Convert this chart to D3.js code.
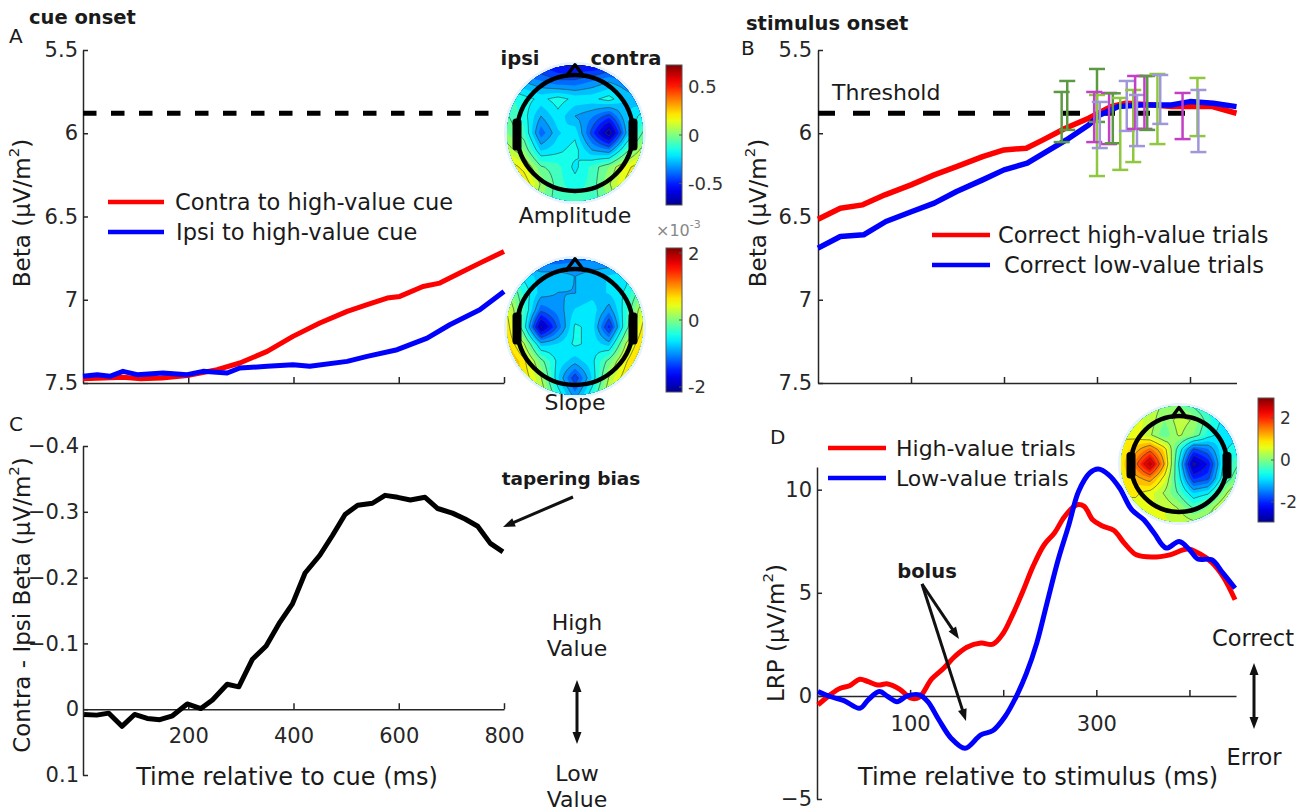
<!DOCTYPE html>
<html><head><meta charset="utf-8">
<script src="https://cdn.jsdelivr.net/npm/d3@7"></script>
<style>body{margin:0;background:#fff}svg{display:block}</style>
</head><body><svg id="c" width="1309" height="812"></svg>
<script>
// ---------------- DATA ----------------
const threshold = 5.88;
const betaTicks = [5.5, 6, 6.5, 7, 7.5];
const cueTicks = [200, 400, 600, 800];
const stimTicks = [100, 200, 300, 400];
const stimTickLabels = [100, 300];
const diffTicks = [-0.4, -0.3, -0.2, -0.1, 0, 0.1];
const lrpTicks = [-5, 0, 5, 10];

// Panel A: beta vs time from cue (ms)
const contraA = [[0,7.475],[40,7.47],[76,7.465],[110,7.475],[150,7.47],[198,7.455],[255,7.42],[298,7.38],[350,7.31],[399,7.22],[450,7.14],[502,7.07],[540,7.03],[578,6.99],[602,6.98],[646,6.92],[678,6.90],[716,6.84],[754,6.78],[800,6.71]];
const ipsiA = [[0,7.46],[27,7.45],[51,7.46],[76,7.43],[103,7.45],[152,7.44],[198,7.45],[228,7.43],[274,7.44],[298,7.41],[350,7.40],[399,7.39],[431,7.40],[502,7.37],[540,7.34],[597,7.30],[654,7.23],[697,7.15],[754,7.06],[800,6.95]];

// Panel B: beta vs time from stimulus (ms)
const highB = [[0,6.516],[24,6.45],[48,6.43],[72,6.37],[100,6.31],[125,6.25],[149,6.20],[177,6.14],[200,6.10],[224,6.09],[242,6.04],[266,5.97],[291,5.91],[315,5.84],[331,5.82],[360,5.83],[380,5.84],[400,5.84],[424,5.84],[450,5.88]];
const lowB = [[0,6.69],[24,6.62],[49,6.61],[73,6.53],[101,6.47],[125,6.42],[149,6.35],[177,6.28],[200,6.22],[225,6.18],[243,6.12],[267,6.04],[291,5.95],[303,5.89],[323,5.84],[347,5.83],[380,5.83],[400,5.81],[425,5.82],[450,5.84]];
// error bars: time, top, bottom, group
const errT  = [262,268,300,300,297,303,313,317,325,332,339,341,343,351,354,365,368,392,408,409];
const errHi = [5.752,5.686,5.614,5.77,5.752,5.812,5.758,5.76,5.788,5.686,5.74,5.656,5.77,5.656,5.656,5.644,5.65,5.758,5.668,5.74];
const errLo = [6.053,5.98,5.932,6.257,6.053,6.089,6.065,6.06,6.22,5.986,6.173,5.974,6.077,5.974,5.98,6.065,5.944,6.035,6.017,6.113];
const errGroup = [0,0,0,1,2,3,2,0,1,3,1,2,3,2,0,1,3,2,1,3];
const errColors = ["#5c9a42","#8fc73e","#c23fc6","#a097d9"];

// Panel C: contra - ipsi
const diffC = [[2,0.008],[26,0.009],[49,0.006],[74,0.026],[98,0.008],[122,0.014],[146,0.016],[170,0.010],[198,-0.008],[224,-0.001],[246,-0.014],[274,-0.038],[296,-0.034],[322,-0.076],[348,-0.096],[374,-0.132],[398,-0.160],[422,-0.207],[450,-0.234],[474,-0.264],[498,-0.296],[522,-0.310],[550,-0.313],[574,-0.325],[598,-0.322],[622,-0.318],[650,-0.322],[674,-0.305],[702,-0.298],[726,-0.289],[750,-0.278],[774,-0.252],[798,-0.239]];

// Panel D: LRP
const highD = [[1,-0.44],[14,0.05],[25,0.37],[35,0.49],[46,0.81],[55,0.69],[65,0.53],[76,0.58],[89,0.32],[101,-0.11],[110,-0.06],[123,0.81],[136,1.34],[148,1.91],[161,2.36],[176,2.56],[189,2.51],[200,3.04],[210,3.93],[221,5.06],[232,6.28],[244,7.33],[255,7.90],[266,8.70],[279,9.27],[287,9.19],[296,8.54],[306,8.25],[319,8.02],[330,7.41],[343,6.84],[360,6.73],[379,6.84],[398,7.12],[411,6.89],[424,6.47],[436,5.79],[449,4.66]];
const lowD = [[1,0.21],[14,-0.03],[29,-0.23],[46,-0.60],[55,-0.19],[67,0.21],[76,-0.03],[86,-0.28],[97,0.0],[110,0.05],[119,-0.28],[131,-1.17],[144,-2.05],[159,-2.54],[176,-1.89],[189,-1.68],[202,-1.00],[214,-0.03],[225,1.10],[236,2.56],[247,4.50],[259,6.60],[270,8.22],[281,9.92],[293,10.81],[302,11.0],[313,10.73],[325,10.08],[338,9.03],[351,8.54],[362,7.90],[375,7.17],[389,7.49],[400,7.09],[409,6.64],[424,6.60],[436,5.95],[449,5.22]];

// Topographic maps (9x9 grids, rows top->bottom)
const ampMap = [
 [-0.5,-0.5,-0.5,-0.55,-0.55,-0.55,-0.5,-0.5,-0.5],
 [-0.25,-0.3,-0.35,-0.4,-0.4,-0.35,-0.3,-0.35,-0.4],
 [-0.1,-0.15,-0.2,-0.15,-0.2,-0.2,-0.15,-0.25,-0.3],
 [-0.05,-0.15,-0.3,-0.2,-0.3,-0.35,-0.45,-0.25,-0.15],
 [0.0,-0.1,-0.4,-0.25,-0.2,-0.45,-0.72,-0.3,-0.05],
 [0.1,0.0,-0.25,-0.2,-0.15,-0.3,-0.35,-0.1,0.1],
 [0.25,0.15,-0.05,-0.1,-0.2,-0.1,0.0,0.15,0.25],
 [0.3,0.25,0.05,-0.1,-0.15,-0.1,0.05,0.2,0.3],
 [0.2,0.15,0.0,-0.1,-0.1,-0.1,0.0,0.15,0.2]];
const slopeMap = [
 [-1.2,-1.2,-1.2,-1.2,-1.1,-1.1,-1.1,-1.1,-1.1],
 [-0.4,-0.6,-0.8,-0.8,-0.9,-0.8,-0.7,-0.6,-0.4],
 [0.2,-0.4,-0.8,-0.9,-0.9,-0.8,-0.7,-0.5,0.0],
 [0.5,-0.3,-1.2,-1.0,-0.7,-0.6,-1.0,-0.4,0.4],
 [0.7,-0.4,-2.0,-1.2,-0.5,-0.6,-1.5,-0.3,0.6],
 [0.8,0.2,-0.8,-0.7,-0.5,-0.6,-0.8,0.2,0.8],
 [1.0,0.6,-0.1,-0.6,-0.8,-0.6,-0.1,0.5,1.0],
 [1.0,0.7,0.2,-0.7,-1.4,-0.7,0.2,0.7,1.0],
 [0.8,0.6,0.4,-0.4,-1.0,-0.4,0.4,0.6,0.8]];
const lrpMap = [
 [0.5,0.6,0.4,0.2,0.0,-0.3,-0.6,-0.7,-0.6],
 [0.6,0.6,0.4,0.0,0.4,0.2,-0.4,-0.8,-0.8],
 [0.7,0.6,0.3,-0.2,0.3,0.0,-0.6,-0.9,-0.8],
 [0.8,1.1,1.6,0.9,-0.5,-1.8,-1.5,-0.8,-0.6],
 [0.8,1.6,2.7,1.2,-0.8,-2.8,-2.2,-0.8,-0.3],
 [0.8,1.1,1.4,0.6,-0.6,-2.0,-1.8,-0.6,0.0],
 [0.8,0.8,0.6,0.2,-0.3,-1.0,-0.8,0.0,0.8],
 [0.6,0.6,0.5,0.5,0.2,-0.3,0.0,0.6,1.0],
 [0.5,0.5,0.5,0.5,0.5,0.3,0.5,0.6,0.8]];
const ampBar = [-0.5, 0, 0.5];
const slopeBar = [-2, 0, 2];
const lrpBar = [-2, 0, 2];

// ---------------- DRAWING ----------------
const FONT = '"DejaVu Sans", Verdana, sans-serif';
const AX = "#262626";
const svg = d3.select("#c").style("font-family", FONT);

const xA = d3.scaleLinear().domain([0,800]).range([83,504]);
const yA = d3.scaleLinear().domain([5.5,7.5]).range([50,383]);
const xB = d3.scaleLinear().domain([0,450]).range([818,1236.5]);
const yB = d3.scaleLinear().domain([5.5,7.5]).range([50,383]);
const xC = d3.scaleLinear().domain([0,800]).range([83,504]);
const yC = d3.scaleLinear().domain([-0.4,0.1]).range([446,775]);
const xD = d3.scaleLinear().domain([0,450]).range([817,1236]);
const yD = d3.scaleLinear().domain([-5,11.1]).range([799,467]);

function styleAxis(g, fs){
  g.attr("font-family", FONT).attr("font-size", fs);
  g.select(".domain").attr("stroke", AX).attr("stroke-width", 1.5);
  g.selectAll(".tick line").attr("stroke", AX).attr("stroke-width", 1.5);
  g.selectAll(".tick text").attr("fill", "#262626");
}
function text(x, y, s, opt={}){
  const t = svg.append("text").attr("x", x).attr("y", y).text(s)
    .attr("font-size", opt.size || 21).attr("fill", opt.fill || "#1a1a1a")
    .attr("text-anchor", opt.anchor || "start").attr("dominant-baseline", "central");
  if (opt.bold) t.attr("font-weight", "bold");
  return t;
}
function ylabel(x, y, pre, size){
  const t = svg.append("text").attr("transform", `translate(${x},${y}) rotate(-90)`)
    .attr("text-anchor", "middle").attr("dominant-baseline", "central")
    .attr("font-size", size).attr("fill", "#1a1a1a");
  t.append("tspan").text(pre + " (μV/m");
  t.append("tspan").attr("dy", -8).attr("font-size", size*0.65).text("2");
  t.append("tspan").attr("dy", 8).text(")");
}
function linePath(data, xs, ys, color, w, curve){
  const gen = d3.line().x(d => xs(d[0])).y(d => ys(d[1])).curve(curve || d3.curveLinear);
  svg.append("path").datum(data).attr("d", gen).attr("fill", "none")
    .attr("stroke", color).attr("stroke-width", w).attr("stroke-linejoin", "round").attr("stroke-linecap", "butt");
}
function arrowHead(x1, y1, x2, y2, len, wid){
  const a = Math.atan2(y2-y1, x2-x1);
  const bx = x2 - len*Math.cos(a), by = y2 - len*Math.sin(a);
  const px = -Math.sin(a)*wid/2, py = Math.cos(a)*wid/2;
  svg.append("path").attr("d", `M${x2},${y2}L${bx+px},${by+py}L${bx-px},${by-py}Z`).attr("fill", "#111");
}
function arrow(x1, y1, x2, y2, w){
  const a = Math.atan2(y2-y1, x2-x1);
  svg.append("line").attr("x1", x1).attr("y1", y1).attr("x2", x2 - 8*Math.cos(a)).attr("y2", y2 - 8*Math.sin(a))
    .attr("stroke", "#111").attr("stroke-width", w);
  arrowHead(x1, y1, x2, y2, 12, 9);
}
function dblArrow(x, y1, y2){
  svg.append("line").attr("x1", x).attr("x2", x).attr("y1", y1 + 8).attr("y2", y2 - 8).attr("stroke", "#111").attr("stroke-width", 3);
  arrowHead(x, y2, x, y1, 12, 9);
  arrowHead(x, y1, x, y2, 12, 9);
}

// ---------- Panel A ----------
svg.append("g").attr("transform", "translate(83,0)")
  .call(d3.axisLeft(yA).tickValues(betaTicks).tickSize(-5).tickSizeOuter(0).tickPadding(5).tickFormat(d3.format("")))
  .call(g => styleAxis(g, 21));
svg.append("g").attr("transform", "translate(0,383)")
  .call(d3.axisBottom(xA).tickValues(cueTicks).tickSize(-6).tickSizeOuter(0).tickFormat(() => ""))
  .call(g => styleAxis(g, 21));
svg.append("line").attr("x1", xA(0)).attr("x2", xA(780)).attr("y1", yA(threshold)).attr("y2", yA(threshold))
  .attr("stroke", "#000").attr("stroke-width", 5).attr("stroke-dasharray", "13.5,14.5");
linePath(contraA, xA, yA, "#ff0000", 5);
linePath(ipsiA, xA, yA, "#0000ff", 5);
ylabel(22, 213, "Beta", 23);
text(29, 17, "cue onset", {bold: true, size: 19.5});
text(9, 36, "A", {size: 20});
svg.append("line").attr("x1", 108).attr("x2", 164).attr("y1", 202).attr("y2", 202).attr("stroke", "#ff0000").attr("stroke-width", 4.5);
svg.append("line").attr("x1", 108).attr("x2", 164).attr("y1", 232).attr("y2", 232).attr("stroke", "#0000ff").attr("stroke-width", 4.5);
text(175, 202, "Contra to high-value cue", {size: 22.5});
text(176, 232, "Ipsi to high-value cue", {size: 22.5});

// ---------- Panel B ----------
svg.append("g").attr("transform", "translate(818,0)")
  .call(d3.axisLeft(yB).tickValues(betaTicks).tickSize(-5).tickSizeOuter(0).tickPadding(6).tickFormat(d3.format("")))
  .call(g => styleAxis(g, 21));
svg.append("g").attr("transform", "translate(0,383)")
  .call(d3.axisBottom(xB).tickValues(stimTicks).tickSize(-6).tickSizeOuter(0).tickFormat(() => ""))
  .call(g => styleAxis(g, 21));
svg.append("line").attr("x1", xB(0)).attr("x2", xB(400)).attr("y1", yB(threshold)).attr("y2", yB(threshold))
  .attr("stroke", "#000").attr("stroke-width", 5).attr("stroke-dasharray", "17,18");
linePath(highB, xB, yB, "#ff0000", 5.5);
linePath(lowB, xB, yB, "#0000ff", 5.5);
errT.forEach((t, i) => {
  const c = errColors[errGroup[i]], x = xB(t);
  const y1 = yB(errHi[i]), y2 = yB(errLo[i]);
  svg.append("line").attr("x1", x).attr("x2", x).attr("y1", y1).attr("y2", y2).attr("stroke", c).attr("stroke-width", 2.5);
  [y1, y2].forEach(y => svg.append("line").attr("x1", x-8).attr("x2", x+8).attr("y1", y).attr("y2", y).attr("stroke", c).attr("stroke-width", 2.5));
});
text(832, 92, "Threshold", {size: 22});
ylabel(758, 213, "Beta", 23);
text(746, 23, "stimulus onset", {bold: true, size: 19.5});
text(741, 48, "B", {size: 20});
svg.append("line").attr("x1", 932).attr("x2", 990).attr("y1", 235).attr("y2", 235).attr("stroke", "#ff0000").attr("stroke-width", 4.5);
svg.append("line").attr("x1", 932).attr("x2", 990).attr("y1", 265).attr("y2", 265).attr("stroke", "#0000ff").attr("stroke-width", 4.5);
text(998, 235, "Correct high-value trials", {size: 22.5});
text(1004, 265, "Correct low-value trials", {size: 22.5});

// ---------- Panel C ----------
svg.append("g").attr("transform", "translate(83,0)")
  .call(d3.axisLeft(yC).tickValues(diffTicks).tickSize(-5).tickSizeOuter(0).tickPadding(4).tickFormat(d3.format("")))
  .call(g => styleAxis(g, 21));
svg.append("g").attr("transform", `translate(0,${yC(0)})`)
  .call(d3.axisBottom(xC).tickValues(cueTicks).tickSize(-6).tickSizeOuter(0).tickPadding(19))
  .call(g => styleAxis(g, 21));
linePath(diffC, xC, yC, "#000", 5);
ylabel(22, 605, "Contra - Ipsi Beta", 23);
text(287, 777, "Time relative to cue (ms)", {size: 24, anchor: "middle"});
text(9, 424, "C", {size: 20});
text(571, 478, "tapering bias", {bold: true, size: 18.5, anchor: "middle"});
arrow(573, 497, 503, 527, 3);
text(577, 622, "High", {size: 22, anchor: "middle"});
text(577, 648, "Value", {size: 22, anchor: "middle"});
dblArrow(577, 680, 744);
text(577, 773, "Low", {size: 22, anchor: "middle"});
text(577, 799, "Value", {size: 22, anchor: "middle"});

// ---------- Panel D ----------
svg.append("g").attr("transform", "translate(817,0)")
  .call(d3.axisLeft(yD).tickValues(lrpTicks).tickSize(-5).tickSizeOuter(0).tickPadding(5).tickFormat(d3.format("")))
  .call(g => styleAxis(g, 21));
svg.append("g").attr("transform", `translate(0,${yD(0)})`)
  .call(d3.axisBottom(xD).tickValues(stimTicks).tickSize(-6).tickSizeOuter(0).tickPadding(20)
    .tickFormat(d => stimTickLabels.includes(d) ? d : ""))
  .call(g => styleAxis(g, 21));
linePath(highD, xD, yD, "#ff0000", 5, d3.curveCatmullRom);
linePath(lowD, xD, yD, "#0000ff", 5, d3.curveCatmullRom);
ylabel(776, 633, "LRP", 23);
text(1038, 777, "Time relative to stimulus (ms)", {size: 24, anchor: "middle"});
text(770, 437, "D", {size: 20});
svg.append("line").attr("x1", 828).attr("x2", 886).attr("y1", 448).attr("y2", 448).attr("stroke", "#ff0000").attr("stroke-width", 4.5);
svg.append("line").attr("x1", 828).attr("x2", 886).attr("y1", 478).attr("y2", 478).attr("stroke", "#0000ff").attr("stroke-width", 4.5);
text(896, 448, "High-value trials", {size: 22});
text(896, 478, "Low-value trials", {size: 22});
text(927, 571, "bolus", {bold: true, size: 19.5, anchor: "middle"});
arrow(922, 584, 959, 639, 3);
arrow(922, 584, 966, 721, 3);
text(1253, 638, "Correct", {size: 22.5, anchor: "middle"});
dblArrow(1254, 663, 729);
text(1254, 757, "Error", {size: 22.5, anchor: "middle"});

// ---------- Topomaps ----------
const jet = d3.scaleLinear().domain([0,0.125,0.375,0.625,0.875,1])
  .range(["#00008f","#0000ff","#00ffff","#ffff00","#ff0000","#800000"]).clamp(true);
let clipN = 0;
// bilinear resampling of the electrode grid for a smooth map rendering
function resample(grid, f){
  const n = grid.length, m = (n-1)*f + 1, out = [];
  for (let j = 0; j < m; j++) for (let i = 0; i < m; i++){
    const u = i/f, v = j/f, i0 = Math.min(Math.floor(u), n-2), j0 = Math.min(Math.floor(v), n-2);
    const du = u - i0, dv = v - j0;
    out.push(grid[j0][i0]*(1-du)*(1-dv) + grid[j0][i0+1]*du*(1-dv) + grid[j0+1][i0]*(1-du)*dv + grid[j0+1][i0+1]*du*dv);
  }
  return {m, values: out};
}
function topo(grid, cx, cy, R, ringR, cmin, cmax){
  const {m, values} = resample(grid, 4), k = 2*R/(m-1);
  const id = "clip" + (clipN++);
  svg.append("clipPath").attr("id", id).append("circle").attr("cx", cx).attr("cy", cy).attr("r", R);
  svg.append("circle").attr("cx", cx).attr("cy", cy).attr("r", R+3).attr("fill", "#e4f2fb");
  const g = svg.append("g").attr("clip-path", `url(#${id})`);
  const nl = 24;
  const thr = d3.range(nl).map(i => cmin + (cmax-cmin)*i/nl);
  const cs = d3.contours().size([m, m]).smooth(true).thresholds(thr)(values);
  const proj = d3.geoTransform({point(x, y){ this.stream.point(cx - R + (x-0.5)*k, cy - R + (y-0.5)*k); }});
  const path = d3.geoPath(proj);
  g.append("rect").attr("x", cx-R).attr("y", cy-R).attr("width", 2*R).attr("height", 2*R).attr("fill", jet(0));
  g.selectAll(null).data(cs).join("path").attr("d", path)
    .attr("fill", d => jet((d.value + (cmax-cmin)/nl/2 - cmin)/(cmax-cmin))).attr("stroke", "none");
  g.selectAll(null).data(cs.filter((d,i) => i % 2 === 1)).join("path").attr("d", path)
    .attr("fill", "none").attr("stroke", "#2a3a3a").attr("stroke-width", 0.9).attr("stroke-opacity", 0.65);
  // head outline
  svg.append("circle").attr("cx", cx).attr("cy", cy).attr("r", ringR).attr("fill", "none").attr("stroke", "#000").attr("stroke-width", 4.5);
  const nose = ringR*0.16;
  svg.append("path").attr("d", `M${cx-nose},${cy-ringR+2}L${cx},${cy-ringR-nose*1.1}L${cx+nose},${cy-ringR+2}`)
    .attr("fill", "none").attr("stroke", "#000").attr("stroke-width", 3.5).attr("stroke-linejoin", "round");
  [-1, 1].forEach(s => svg.append("rect").attr("x", cx + s*ringR - 4.5).attr("y", cy - ringR*0.25).attr("width", 9)
    .attr("height", ringR*0.55).attr("rx", 3.5).attr("fill", "#000"));
}
function colorbar(x, y0, y1, cmin, cmax, ticks, fs, fmt){
  const id = "grad" + (clipN++);
  const lg = svg.append("defs").append("linearGradient").attr("id", id).attr("x1", 0).attr("x2", 0).attr("y1", 1).attr("y2", 0);
  d3.range(0, 1.0001, 0.05).forEach(t => lg.append("stop").attr("offset", t).attr("stop-color", jet(t)));
  svg.append("rect").attr("x", x).attr("y", y0).attr("width", 16).attr("height", y1-y0)
    .attr("fill", `url(#${id})`).attr("stroke", "#555").attr("stroke-width", 1);
  const s = d3.scaleLinear().domain([cmin, cmax]).range([y1, y0]);
  ticks.forEach(v => {
    svg.append("line").attr("x1", x+16).attr("x2", x+13).attr("y1", s(v)).attr("y2", s(v)).attr("stroke", "#555");
    text(x + 22, s(v), fmt(v), {size: fs, fill: "#333"});
  });
}
topo(ampMap, 575, 133, 68, 58, -0.72, 0.72);
colorbar(666, 65, 205, -0.72, 0.72, ampBar, 18, d => String(d));
topo(slopeMap, 575, 327, 68, 58, -2.15, 2.15);
colorbar(666, 248, 392, -2.15, 2.15, slopeBar, 18, d => String(d));
topo(lrpMap, 1179, 464, 58, 48, -2.95, 2.95);
colorbar(1258, 398, 522, -2.95, 2.95, lrpBar, 17, d => String(d));

text(520, 58, "ipsi", {bold: true, size: 19.5, anchor: "middle"});
text(626, 58, "contra", {bold: true, size: 19.5, anchor: "middle"});
text(575, 215, "Amplitude", {size: 22, anchor: "middle"});
text(575, 402, "Slope", {size: 22, anchor: "middle"});
const xe = svg.append("text").attr("x", 656).attr("y", 230).attr("font-size", 16).attr("fill", "#888").attr("dominant-baseline", "central");
xe.append("tspan").text("×10");
xe.append("tspan").attr("dy", -6).attr("font-size", 11).text("-3");
</script></body></html>
